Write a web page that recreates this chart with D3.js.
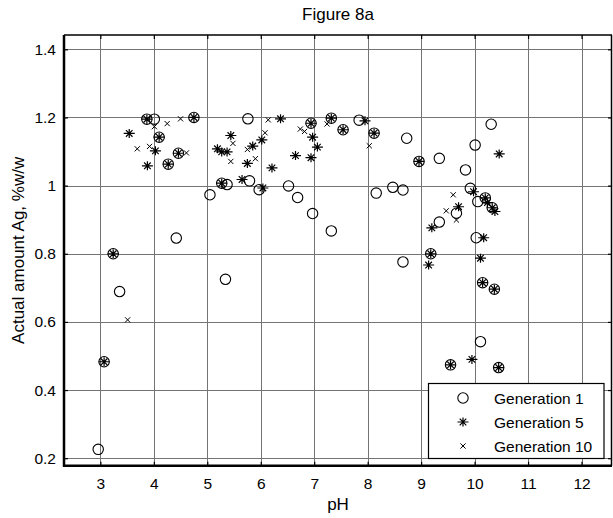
<!DOCTYPE html>
<html>
<head>
<meta charset="utf-8">
<script src="https://cdn.jsdelivr.net/npm/d3@7"></script>
<style>
  html, body { margin: 0; padding: 0; background: #fff; }
  svg { display: block; }
  text { font-family: "Liberation Sans", Arial, sans-serif; fill: #000; }
</style>
</head>
<body>
<svg id="chart" width="613" height="518"></svg>
<script>
// Silver content vs pH for three generations
const gen1PH = [3.07, 3.24, 3.87, 4.10, 4.27, 4.46, 4.75, 5.27, 6.94, 7.32, 7.54, 8.12, 8.96, 9.18, 9.55,
  10.20, 10.33, 10.15, 10.37, 10.45,
  2.96, 3.36, 4.42, 4.01, 5.05, 5.34, 5.37, 5.76, 5.79, 5.97, 6.52, 6.69, 6.97, 7.32, 7.84, 8.16,
  8.47, 8.66, 8.66, 8.73, 9.34, 9.34, 9.66, 9.83, 9.92, 10.01, 10.06, 10.03, 10.11, 10.31];
const gen1Ag = [0.483, 0.800, 1.195, 1.142, 1.063, 1.095, 1.200, 1.007, 1.183, 1.198, 1.164, 1.154, 1.071, 0.800, 0.474,
  0.964, 0.935, 0.715, 0.696, 0.466,
  0.226, 0.689, 0.846, 1.195, 0.973, 0.725, 1.003, 1.196, 1.014, 0.988, 0.999, 0.965, 0.918, 0.867, 1.192, 0.978,
  0.995, 0.987, 0.776, 1.139, 1.080, 0.893, 0.919, 1.046, 0.992, 1.119, 0.953, 0.847, 0.542, 1.180];

const gen5PH = [3.07, 3.24, 3.87, 4.10, 4.27, 4.46, 4.75, 5.27, 6.94, 7.32, 7.54, 8.12, 8.96, 9.18, 9.55,
  10.20, 10.33, 10.15, 10.37, 10.45,
  3.54, 3.88, 4.03, 5.19, 5.27, 5.37, 5.44, 5.65, 5.75, 5.85, 6.02, 6.04, 6.21, 6.37, 6.65, 6.94,
  6.97, 7.06, 7.95, 9.14, 9.20, 9.70, 9.98, 9.95, 10.11, 10.17, 10.46, 10.24, 10.38];
const gen5Ag = [0.483, 0.800, 1.195, 1.142, 1.063, 1.095, 1.200, 1.007, 1.183, 1.198, 1.164, 1.154, 1.071, 0.800, 0.474,
  0.964, 0.935, 0.715, 0.696, 0.466,
  1.153, 1.058, 1.102, 1.108, 1.099, 1.099, 1.147, 1.018, 1.065, 1.116, 1.134, 0.993, 1.052, 1.196, 1.088, 1.082,
  1.142, 1.113, 1.190, 0.767, 0.876, 0.938, 0.982, 0.490, 0.787, 0.847, 1.093, 0.950, 0.924];

const gen10PH = [3.51, 3.69, 3.92, 4.01, 4.25, 4.50, 4.61, 5.44, 5.48, 5.75, 5.90, 6.08, 6.14, 6.74, 6.82,
  7.24, 8.03, 9.47, 9.60, 9.66];
const gen10Ag = [0.606, 1.108, 1.115, 1.173, 1.182, 1.196, 1.096, 1.071, 1.124, 1.106, 1.079, 1.155, 1.193, 1.166, 1.159,
  1.181, 1.117, 0.926, 0.973, 0.899];

const seriesNames = ["Generation 1", "Generation 5", "Generation 10"];
const xTicks = [3, 4, 5, 6, 7, 8, 9, 10, 11, 12];
const yTicks = [0.2, 0.4, 0.6, 0.8, 1.0, 1.2, 1.4];
const yTickLabels = ["0.2", "0.4", "0.6", "0.8", "1", "1.2", "1.4"];

const svg = d3.select("#chart");
const plotLeft = 64, plotRight = 612, plotTop = 35, plotBottom = 465.7;

const x = d3.scaleLinear().domain([2.32, 12.57]).range([plotLeft, plotRight]);
const y = d3.scaleLinear().domain([0.178, 1.442]).range([plotBottom, plotTop]);

const FONT = 15.5;
const LABEL_FONT = 17;

// grid
const grid = svg.append("g").attr("stroke", "#747474").attr("stroke-width", 1);
grid.selectAll("line.vx").data(xTicks).join("line")
  .attr("x1", d => Math.round(x(d)) + 0.5).attr("x2", d => Math.round(x(d)) + 0.5)
  .attr("y1", plotTop).attr("y2", plotBottom);
grid.selectAll("line.hy").data(yTicks).join("line")
  .attr("y1", d => Math.round(y(d)) + 0.5).attr("y2", d => Math.round(y(d)) + 0.5)
  .attr("x1", plotLeft).attr("x2", plotRight);

// axes with inward ticks on all four sides
const axB = d3.axisBottom(x).tickValues(xTicks).tickSizeInner(-4).tickSizeOuter(0).tickPadding(12).tickFormat(d3.format("d"));
const axT = d3.axisTop(x).tickValues(xTicks).tickSizeInner(-4).tickSizeOuter(0).tickFormat("");
const axL = d3.axisLeft(y).tickValues(yTicks).tickSizeInner(-4).tickSizeOuter(0).tickPadding(8)
  .tickFormat((d, i) => yTickLabels[i]);
const axR = d3.axisRight(y).tickValues(yTicks).tickSizeInner(-4).tickSizeOuter(0).tickFormat("");

function styleAxis(g) {
  g.select(".domain").remove();
  g.selectAll(".tick line").attr("stroke", "#000").attr("stroke-width", 1.2);
  g.selectAll(".tick text").attr("font-size", FONT).attr("font-family", "Liberation Sans, Arial, sans-serif").attr("fill", "#000");
}
svg.append("g").attr("transform", `translate(0,${plotBottom})`).call(axB).call(styleAxis);
svg.append("g").attr("transform", `translate(0,${plotTop})`).call(axT).call(styleAxis);
svg.append("g").attr("transform", `translate(${plotLeft},0)`).call(axL).call(styleAxis);
svg.append("g").attr("transform", `translate(${plotRight},0)`).call(axR).call(styleAxis);

// frame
svg.append("line").attr("x1", plotLeft).attr("x2", plotRight).attr("y1", plotTop).attr("y2", plotTop).attr("stroke", "#000").attr("stroke-width", 1.5);
svg.append("line").attr("x1", plotRight - 0.5).attr("x2", plotRight - 0.5).attr("y1", plotTop).attr("y2", plotBottom).attr("stroke", "#000").attr("stroke-width", 1.5);
svg.append("line").attr("x1", plotLeft).attr("x2", plotLeft).attr("y1", plotTop).attr("y2", plotBottom + 1).attr("stroke", "#000").attr("stroke-width", 2.5);
svg.append("line").attr("x1", plotLeft - 1).attr("x2", plotRight).attr("y1", plotBottom).attr("y2", plotBottom).attr("stroke", "#000").attr("stroke-width", 2.5);

// marker shapes
const starPath = "M0,-4.5V4.5M-5.5,0H5.5M-3.3,-3.3L3.3,3.3M-3.3,3.3L3.3,-3.3";
const crossPath = "M-2.6,-2.6L2.6,2.6M-2.6,2.6L2.6,-2.6";

const plot = svg.append("g");

function drawCircles(g, pts) {
  g.selectAll("circle").data(pts).join("circle")
    .attr("cx", d => x(d[0])).attr("cy", d => y(d[1])).attr("r", 5.2)
    .attr("fill", "none").attr("stroke", "#000").attr("stroke-width", 1.1);
}
function drawPaths(g, pts, p, sw) {
  g.selectAll("path").data(pts).join("path")
    .attr("d", p).attr("transform", d => `translate(${x(d[0])},${y(d[1])})`)
    .attr("fill", "none").attr("stroke", "#000").attr("stroke-width", sw);
}

drawCircles(plot.append("g"), d3.zip(gen1PH, gen1Ag));
drawPaths(plot.append("g"), d3.zip(gen5PH, gen5Ag), starPath, 1.2);
drawPaths(plot.append("g"), d3.zip(gen10PH, gen10Ag), crossPath, 1);

// legend
const lg = svg.append("g");
lg.append("rect").attr("x", 428.5).attr("y", 383.5).attr("width", 175.5).attr("height", 75)
  .attr("fill", "#fff").attr("stroke", "#000").attr("stroke-width", 1.2);
const rowY = [398, 422, 446];
const mx = 463;
lg.append("circle").attr("cx", mx).attr("cy", rowY[0]).attr("r", 5.2).attr("fill", "none").attr("stroke", "#000").attr("stroke-width", 1.1);
lg.append("path").attr("d", starPath).attr("transform", `translate(${mx},${rowY[1]})`).attr("fill", "none").attr("stroke", "#000").attr("stroke-width", 1.2);
lg.append("path").attr("d", crossPath).attr("transform", `translate(${mx},${rowY[2]})`).attr("fill", "none").attr("stroke", "#000").attr("stroke-width", 1);
lg.selectAll("text").data(seriesNames).join("text")
  .attr("x", 494).attr("y", (d, i) => rowY[i]).attr("dy", "0.36em")
  .attr("font-size", FONT).text(d => d);

// titles
svg.append("text").attr("x", (plotLeft + plotRight) / 2).attr("y", 20).attr("text-anchor", "middle")
  .attr("font-size", LABEL_FONT).text("Figure 8a");
svg.append("text").attr("x", (plotLeft + plotRight) / 2).attr("y", 510).attr("text-anchor", "middle")
  .attr("font-size", LABEL_FONT).text("pH");
svg.append("text").attr("transform", `translate(24,${(plotTop + plotBottom) / 2}) rotate(-90)`)
  .attr("text-anchor", "middle").attr("font-size", LABEL_FONT).text("Actual amount Ag, %w/w");
</script>
</body>
</html>
